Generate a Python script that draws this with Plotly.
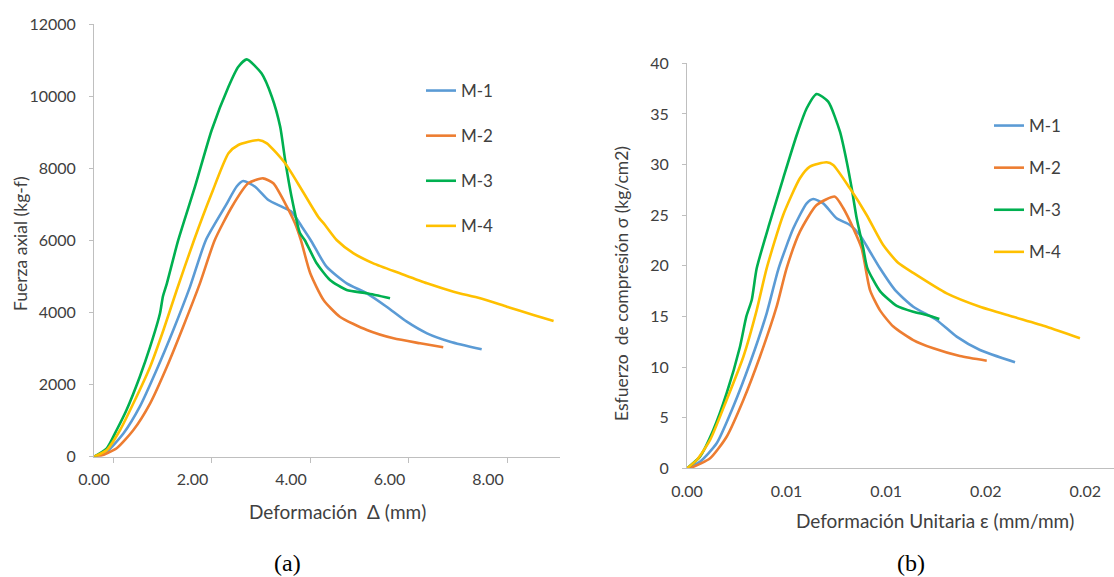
import plotly.graph_objects as go

# ---------------- Panel (a): axial force vs. deformation ----------------
specimens = ["M-1", "M-2", "M-3", "M-4"]
colors = ["#5B9BD5", "#ED7D31", "#00B050", "#FFC000"]

defo_m1 = [0, 0.26, 0.60, 0.93, 1.27, 1.61, 1.95, 2.27, 2.66, 2.90, 3.03, 3.27, 3.54, 3.81,
           4.01, 4.22, 4.40, 4.72, 5.13, 5.54, 5.94, 6.35, 6.76, 7.23, 7.87]
force_m1 = [0, 139, 649, 1387, 2404, 3514, 4715, 6004, 6933, 7500, 7645, 7488, 7119, 6933,
            6794, 6378, 6004, 5269, 4808, 4531, 4160, 3744, 3422, 3189, 2978]

defo_m2 = [0, 0.12, 0.46, 0.80, 1.14, 1.48, 1.81, 2.15, 2.45, 2.80, 3.13, 3.43, 3.64, 3.88,
           4.08, 4.20, 4.39, 4.66, 4.99, 5.54, 6.08, 6.62, 7.09]
force_m2 = [0, 20, 233, 740, 1481, 2496, 3606, 4808, 6004, 6933, 7582, 7720, 7582, 7027,
            6472, 6004, 5086, 4346, 3883, 3514, 3283, 3145, 3034]

defo_m3 = [0, 0.26, 0.46, 0.66, 0.93, 1.14, 1.34, 1.40, 1.48, 1.71, 2.05, 2.39, 2.73, 2.93,
           3.10, 3.40, 3.61, 3.78, 3.88, 4.01, 4.18, 4.28, 4.52, 4.79, 5.13, 5.54, 6.01]
force_m3 = [0, 233, 740, 1295, 2218, 3050, 3977, 4450, 4808, 6004, 7488, 9060, 10261, 10816,
            11020, 10632, 9984, 9151, 8228, 7210, 6203, 6004, 5363, 4900, 4623, 4531, 4393]

defo_m4 = [0, 0.26, 0.53, 0.80, 1.14, 1.41, 1.68, 2.03, 2.39, 2.73, 2.93, 3.34, 3.51, 3.88,
           4.22, 4.55, 4.69, 4.93, 5.27, 5.67, 6.21, 6.76, 7.30, 7.84, 8.38, 8.92, 9.33]
force_m4 = [0, 186, 740, 1481, 2496, 3514, 4623, 6004, 7305, 8414, 8644, 8783, 8691, 8136,
            7396, 6656, 6425, 6004, 5640, 5363, 5086, 4808, 4576, 4393, 4160, 3930, 3763]

# ---------------- Panel (b): compressive stress vs. unit strain ----------------
strain_m1 = [0, 0.00065, 0.00149, 0.00232, 0.00316, 0.00400, 0.00460, 0.00534, 0.00601, 0.00634,
             0.00684, 0.00751, 0.00818, 0.00868, 0.00919, 0.00969, 0.01045, 0.01136, 0.01253,
             0.01354, 0.01471, 0.01647]
stress_m1 = [0, 0.65, 2.47, 6.08, 10.37, 15.31, 19.75, 23.70, 26.17, 26.60,
             26.17, 24.69, 24.03, 23.04, 21.39, 19.75, 17.60, 15.96, 14.65,
             13.00, 11.68, 10.47]

strain_m2 = [0, 0.00032, 0.00116, 0.00199, 0.00283, 0.00366, 0.00450, 0.00500, 0.00567, 0.00651,
             0.00743, 0.00785, 0.00835, 0.00877, 0.00919, 0.00969, 0.01036,
             0.01136, 0.01237, 0.01370, 0.01505]
stress_m2 = [0, 0.16, 0.99, 3.12, 6.75, 11.02, 15.96, 19.75, 23.37, 26.00,
             26.83, 25.68, 23.70, 21.73, 17.60, 15.60, 14.00,
             12.67, 11.85, 11.09, 10.63]

strain_m3 = [0, 0.00065, 0.00132, 0.00199, 0.00266, 0.00298, 0.00325, 0.00350, 0.00417, 0.00483,
             0.00551, 0.00601, 0.00651, 0.00709, 0.00768, 0.00802, 0.00827, 0.00852, 0.00885,
             0.00905, 0.00969, 0.01053, 0.01136, 0.01203, 0.01267]
stress_m3 = [0, 1.15, 3.78, 7.41, 12.01, 15.00, 16.62, 19.75, 24.36, 28.64,
             32.92, 35.56, 36.97, 36.21, 33.24, 30.28, 27.65, 24.69, 21.73,
             19.80, 17.50, 16.05, 15.47, 15.14, 14.75]

strain_m4 = [0, 0.00049, 0.00116, 0.00199, 0.00283, 0.00350, 0.00400, 0.00483, 0.00567, 0.00617,
             0.00701, 0.00734, 0.00818, 0.00902, 0.00985, 0.01060, 0.01136, 0.01304, 0.01471,
             0.01638, 0.01806, 0.01973]
stress_m4 = [0, 0.82, 2.80, 6.75, 11.02, 15.63, 19.75, 25.02, 28.64, 29.79,
             30.22, 29.96, 27.65, 25.02, 22.05, 20.30, 19.30, 17.28, 15.96,
             14.97, 13.98, 12.84]

# Axis tick labels
defo_ticks = [0, 2, 4, 6, 8]
force_ticks = [0, 2000, 4000, 6000, 8000, 10000, 12000]
strain_ticks = [0, 0.005, 0.010, 0.015, 0.020]
strain_ticktext = ["0.00", "0.01", "0.01", "0.02", "0.02"]
stress_ticks = [0, 5, 10, 15, 20, 25, 30, 35, 40]

panel_a = [(defo_m1, force_m1), (defo_m2, force_m2), (defo_m3, force_m3), (defo_m4, force_m4)]
panel_b = [(strain_m1, stress_m1), (strain_m2, stress_m2), (strain_m3, stress_m3), (strain_m4, stress_m4)]

FONT = "Lato"
TXT = "#404040"
AXIS = "#BFBFBF"

fig = go.Figure()
for i, (name, col) in enumerate(zip(specimens, colors)):
    x, y = panel_a[i]
    fig.add_trace(go.Scatter(
        x=x, y=y, name=name, mode="lines",
        line=dict(color=col, width=2.6, shape="spline", smoothing=0.6),
        xaxis="x", yaxis="y", legend="legend", legendgroup="a" + name,
    ))
for i, (name, col) in enumerate(zip(specimens, colors)):
    x, y = panel_b[i]
    fig.add_trace(go.Scatter(
        x=x, y=y, name=name, mode="lines",
        line=dict(color=col, width=2.6, shape="spline", smoothing=0.6),
        xaxis="x2", yaxis="y2", legend="legend2", legendgroup="b" + name,
    ))

axis_common = dict(showgrid=False, zeroline=False, showline=True, linecolor=AXIS, linewidth=1,
                   automargin=False,
                   tickfont=dict(family=FONT, size=16, color=TXT))

W, H = 1114, 577


def label(text, px, py, angle=0, size=16, font=None):
    """Centred text annotation placed in page pixels."""
    return dict(text=text, x=px / W, y=1 - py / H, xref="paper", yref="paper",
                xanchor="center", yanchor="middle", textangle=angle, showarrow=False,
                font=font or dict(family=FONT, size=size, color=TXT))


caption_font = dict(family="Liberation Serif", size=24, color="#000000")

fig.update_layout(
    width=W, height=H,
    margin=dict(l=0, r=0, t=0, b=0, autoexpand=False),
    paper_bgcolor="white", plot_bgcolor="white",
    font=dict(family=FONT, size=16, color=TXT),
    xaxis=dict(domain=[94 / W, 560 / W], range=[0, 9.46], anchor="y",
               tickmode="array", tickvals=defo_ticks, tickformat=".2f",
               ticks="", ticklabelstandoff=8,
               minor=dict(tick0=0.39, dtick=2, ticks="outside", ticklen=5, tickcolor=AXIS),
               **axis_common),
    yaxis=dict(domain=[1 - 456.7 / H, 1 - 24 / H], range=[0, 12000], anchor="x",
               tickmode="array", tickvals=force_ticks, tickformat="d",
               ticks="outside", ticklen=4, tickcolor=AXIS, ticklabelstandoff=10,
               **axis_common),
    xaxis2=dict(domain=[687 / W, 1.0], range=[0, 0.02144], anchor="y2",
                tickmode="array", tickvals=strain_ticks, ticktext=strain_ticktext,
                ticks="", ticklabelstandoff=8,
                **axis_common),
    yaxis2=dict(domain=[1 - 468.3 / H, 1 - 63.3 / H], range=[0, 40], anchor="x2",
                tickmode="array", tickvals=stress_ticks,
                ticks="outside", ticklen=4, tickcolor=AXIS, ticklabelstandoff=10,
                **axis_common),
    legend=dict(x=421 / W, y=1 - 73 / H, xanchor="left", yanchor="top",
                bgcolor="rgba(0,0,0,0)", tracegroupgap=20,
                font=dict(family=FONT, size=17, color=TXT)),
    legend2=dict(x=989 / W, y=1 - 108 / H, xanchor="left", yanchor="top",
                 bgcolor="rgba(0,0,0,0)", tracegroupgap=17,
                 font=dict(family=FONT, size=17, color=TXT)),
    annotations=[
        label("Fuerza axial (kg-f)", 20, 244, angle=-90, size=17.5),
        label("Deformación\u00a0 Δ (mm)", 337, 511, size=19),
        label("Esfuerzo\u00a0 de compresión σ (kg/cm2)", 621, 283, angle=-90, size=17.5),
        label("Deformación Unitaria ε (mm/mm)", 935, 520, size=19),
        label("(a)", 287, 563, font=caption_font),
        label("(b)", 911, 563, font=caption_font),
    ],
)

fig.write_html("out.html")
